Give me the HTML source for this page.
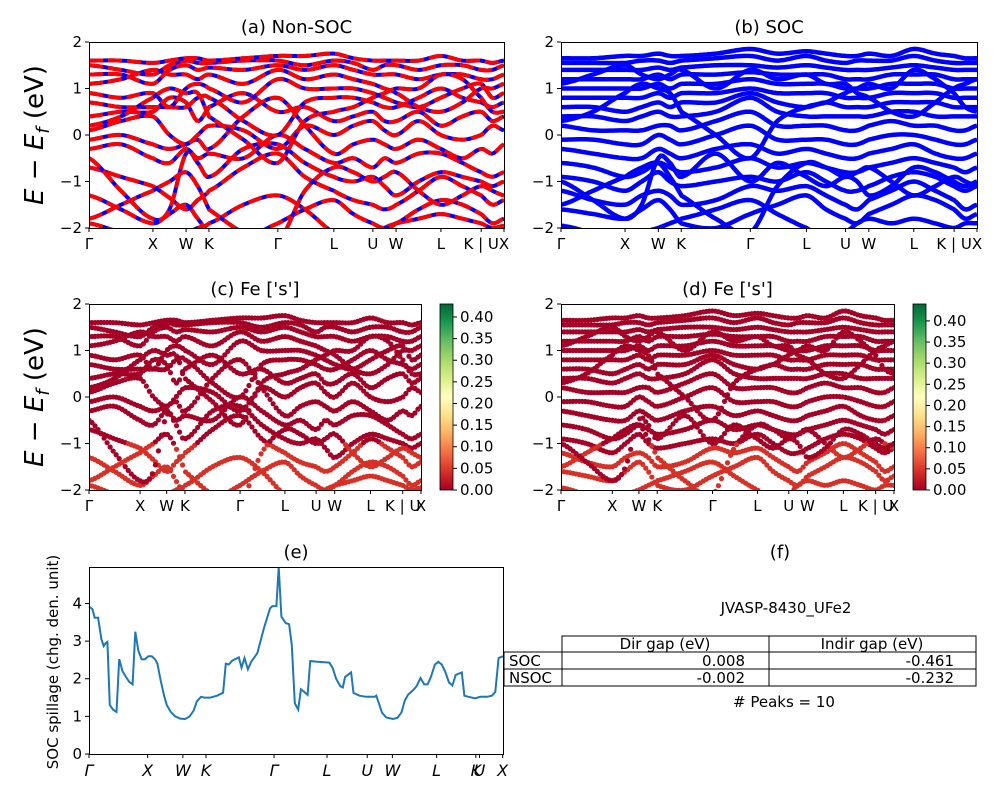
<!DOCTYPE html>
<html><head><meta charset="utf-8">
<style>
html,body{margin:0;padding:0;background:#fff;}
svg{display:block;font-family:"DejaVu Sans","Liberation Sans",sans-serif;}
</style></head>
<body>
<svg id="fig" width="1000" height="800" viewBox="0 0 1000 800" xmlns="http://www.w3.org/2000/svg">
<defs>
<linearGradient id="rdylgn" x1="0" y1="1" x2="0" y2="0">
<stop offset="0" stop-color="#a50026"/><stop offset="0.1" stop-color="#d73027"/><stop offset="0.2" stop-color="#f46d43"/><stop offset="0.3" stop-color="#fdae61"/><stop offset="0.4" stop-color="#fee08b"/><stop offset="0.5" stop-color="#ffffbf"/><stop offset="0.6" stop-color="#d9ef8b"/><stop offset="0.7" stop-color="#a6d96a"/><stop offset="0.8" stop-color="#66bd63"/><stop offset="0.9" stop-color="#1a9850"/><stop offset="1" stop-color="#006837"/>
</linearGradient>
<clipPath id="clipA"><rect x="89" y="42" width="415" height="186"/></clipPath>
<clipPath id="clipB"><rect x="561" y="42" width="416" height="186"/></clipPath>
<clipPath id="clipC"><rect x="89" y="304" width="332" height="186"/></clipPath>
<clipPath id="clipD"><rect x="561" y="304" width="333" height="186"/></clipPath>
</defs>
<g>
<text x="780" y="558" font-size="18" text-anchor="middle">(f)</text>
<text x="786" y="613" font-size="15" text-anchor="middle">JVASP-8430_UFe2</text>
<g font-size="15" fill="#000">
<rect x="562" y="636" width="207" height="16" fill="none" stroke="#000"/>
<rect x="769" y="636" width="207" height="16" fill="none" stroke="#000"/>
<rect x="504" y="652" width="58" height="17" fill="none" stroke="#000"/>
<rect x="562" y="652" width="207" height="17" fill="none" stroke="#000"/>
<rect x="769" y="652" width="207" height="17" fill="none" stroke="#000"/>
<rect x="504" y="669" width="58" height="17" fill="none" stroke="#000"/>
<rect x="562" y="669" width="207" height="17" fill="none" stroke="#000"/>
<rect x="769" y="669" width="207" height="17" fill="none" stroke="#000"/>
<text x="665" y="649" text-anchor="middle">Dir gap (eV)</text>
<text x="872" y="649" text-anchor="middle">Indir gap (eV)</text>
<text x="509" y="666">SOC</text>
<text x="509" y="683">NSOC</text>
<text x="745" y="666" text-anchor="end">0.008</text>
<text x="954" y="666" text-anchor="end">-0.461</text>
<text x="745" y="683" text-anchor="end">-0.002</text>
<text x="954" y="683" text-anchor="end">-0.232</text>
</g>
<text x="784" y="707" font-size="15" text-anchor="middle"># Peaks = 10</text>
</g>
</svg>
<script>
// ---------- data ----------
const kNodes = [0,0.077,0.154,0.194,0.234,0.262,0.289,0.372,0.455,0.52,0.59,0.637,0.684,0.712,0.74,0.794,0.848,0.9,0.945,0.972,1.0];
const kTickPos = [0,0.154,0.234,0.289,0.455,0.59,0.684,0.74,0.848,0.945,1.0];
const kTickLabels = ["Γ","X","W","K","Γ","L","U","W","L","K | U","X"];
const energyTicks = [-2,-1,0,1,2];
const nsocBands = [
[-1.9,-2.1,-2.3,-2.2,-2.1,-2.0,-1.9,-1.5,-1.3,-1.6,-2.1,-2.3,-2.2,-2.0,-1.9,-1.8,-1.7,-1.8,-1.9,-2.0,-1.95],
[-1.3,-1.6,-1.9,-1.7,-1.5,-1.8,-2.1,-2.2,-1.9,-1.6,-1.4,-1.7,-1.9,-2.0,-1.9,-1.6,-1.4,-1.5,-1.7,-1.9,-1.8],
[-0.7,-0.9,-1.1,-1.35,-1.6,-1.4,-1.2,-0.7,-0.4,-0.9,-1.2,-1.4,-1.5,-1.6,-1.5,-1.2,-0.9,-1.1,-1.3,-1.5,-1.4],
[-0.5,-1.2,-1.8,-1.6,-0.4,-0.6,-0.9,-0.3,-0.2,-0.6,-0.9,-1.0,-0.9,-1.1,-1.3,-1.0,-0.8,-0.9,-1.0,-1.1,-1.0],
[-0.3,-0.2,-0.5,-0.6,-0.3,-0.5,-0.4,-0.5,0.0,-0.3,-0.6,-0.5,-0.7,-0.5,-0.6,-0.4,-0.4,-0.6,-0.8,-0.9,-0.8],
[-0.1,0.0,-0.2,-0.3,-0.2,-0.1,-0.3,0.4,0.8,0.2,-0.4,-0.2,-0.1,-0.2,-0.3,-0.1,-0.3,-0.5,-0.3,-0.4,-0.2],
[0.1,0.3,0.4,0.0,-0.2,0.0,0.2,0.1,-0.3,0.2,0.0,0.2,0.3,0.1,0.0,0.3,0.0,-0.1,0.0,0.2,0.1],
[0.4,0.5,0.5,0.8,0.7,0.3,0.6,0.9,0.5,0.6,0.3,0.4,0.5,0.3,0.3,0.5,0.2,0.4,0.5,0.3,0.4],
[0.7,0.6,0.6,0.6,0.6,0.8,0.8,0.3,0.0,0.7,0.8,0.8,0.7,0.6,0.6,0.8,1.0,0.8,0.7,0.6,0.7],
[0.9,0.8,0.9,0.6,1.0,1.1,1.0,0.7,1.2,1.0,1.0,1.0,0.9,0.8,0.7,0.6,0.8,1.0,1.1,0.8,0.9],
[1.1,1.2,1.4,1.3,1.3,1.2,1.3,1.1,1.4,1.2,1.3,1.2,1.1,1.0,0.9,0.6,0.5,0.7,1.0,1.0,1.1],
[1.3,1.3,1.1,1.4,1.5,1.4,1.45,1.4,1.5,1.4,1.5,1.4,1.3,1.3,1.3,1.2,1.3,1.3,1.2,1.2,1.3],
[1.5,1.4,1.3,1.5,1.6,1.55,1.55,1.6,1.6,1.5,1.6,1.55,1.4,1.5,1.5,1.4,1.5,1.5,1.4,1.4,1.5],
[1.6,1.6,1.55,1.6,1.65,1.65,1.6,1.65,1.7,1.7,1.75,1.65,1.6,1.6,1.6,1.6,1.7,1.6,1.6,1.55,1.6],
[-1.8,-1.5,-1.2,-1.0,-0.8,-1.1,-1.6,-2.1,-2.3,-1.2,-0.7,-0.8,-1.0,-0.9,-0.8,-1.2,-1.5,-1.3,-1.1,-1.2,-1.3],
[0.2,0.4,0.8,1.0,0.9,0.9,0.4,-0.1,-0.6,0.3,0.5,0.6,0.8,0.9,1.0,1.0,1.3,1.2,0.8,0.5,0.5]
];
const nsocWeights = [0.025,0.02,0.015,0.01,0.01,0.01,0.01,0.01,0.01,0.01,0.01,0.01,0.01,0.01,0.02,0.01];
const socBands = [
[-1.95,-2.1,-2.2,-2.1,-2.0,-1.9,-1.8,-1.6,-1.4,-1.7,-2.0,-2.2,-2.1,-1.9,-1.8,-1.9,-1.8,-1.9,-2.0,-1.9,-1.9],
[-1.6,-1.7,-1.8,-1.6,-1.4,-1.6,-1.9,-2.0,-1.7,-1.5,-1.3,-1.6,-1.8,-1.9,-1.7,-1.5,-1.3,-1.4,-1.6,-1.8,-1.7],
[-1.2,-1.4,-1.5,-1.3,-1.2,-1.3,-1.5,-1.4,-1.1,-1.2,-1.1,-1.3,-1.5,-1.6,-1.4,-1.2,-1.0,-1.2,-1.4,-1.6,-1.5],
[-0.9,-1.0,-1.2,-1.0,-0.8,-1.0,-1.1,-1.0,-0.9,-1.0,-0.8,-1.0,-1.2,-1.2,-1.1,-0.9,-0.8,-0.9,-1.1,-1.2,-1.1],
[-0.6,-0.7,-0.9,-0.8,-0.6,-0.7,-0.8,-0.7,-0.5,-0.7,-0.6,-0.7,-0.8,-0.8,-0.7,-0.6,-0.5,-0.6,-0.7,-0.8,-0.7],
[-0.3,-0.4,-0.5,-0.5,-0.3,-0.4,-0.5,-0.3,-0.2,-0.4,-0.3,-0.4,-0.5,-0.5,-0.4,-0.3,-0.2,-0.4,-0.5,-0.5,-0.4],
[-0.1,-0.1,-0.2,-0.2,0.0,-0.1,-0.2,0.0,0.2,-0.1,-0.1,-0.1,-0.2,-0.2,-0.1,0.0,0.0,-0.1,-0.2,-0.2,-0.1],
[0.2,0.1,0.1,0.1,0.2,0.2,0.1,0.3,0.5,0.2,0.2,0.2,0.1,0.1,0.2,0.3,0.2,0.2,0.1,0.1,0.2],
[0.4,0.4,0.3,0.4,0.5,0.4,0.4,0.5,0.8,0.5,0.4,0.4,0.4,0.4,0.4,0.5,0.5,0.4,0.4,0.4,0.4],
[0.6,0.6,0.5,0.6,0.7,0.6,0.7,0.7,0.9,0.7,0.6,0.7,0.6,0.6,0.6,0.7,0.7,0.7,0.6,0.6,0.6],
[0.8,0.8,0.8,0.8,0.9,0.8,0.9,0.9,1.0,0.9,0.9,0.9,0.8,0.8,0.8,0.9,0.9,0.9,0.8,0.8,0.8],
[1.0,1.0,1.0,1.0,1.1,1.0,1.1,1.1,1.2,1.1,1.1,1.1,1.0,1.0,1.0,1.1,1.1,1.1,1.0,1.0,1.0],
[1.2,1.2,1.2,1.2,1.3,1.2,1.3,1.3,1.35,1.3,1.3,1.3,1.2,1.2,1.2,1.3,1.3,1.3,1.2,1.2,1.2],
[1.4,1.4,1.4,1.4,1.45,1.4,1.45,1.5,1.5,1.45,1.5,1.45,1.4,1.4,1.4,1.45,1.5,1.45,1.4,1.4,1.4],
[1.55,1.55,1.55,1.6,1.6,1.55,1.6,1.65,1.7,1.6,1.7,1.6,1.55,1.6,1.6,1.6,1.7,1.6,1.55,1.55,1.55],
[1.65,1.65,1.7,1.7,1.75,1.7,1.7,1.75,1.85,1.75,1.8,1.75,1.7,1.7,1.75,1.7,1.85,1.75,1.7,1.65,1.65],
[-1.5,-1.2,-0.9,-0.7,-0.6,-0.9,-1.3,-1.8,-2.1,-1.1,-0.6,-0.7,-0.9,-0.8,-0.7,-1.0,-1.3,-1.1,-0.9,-1.0,-1.1],
[0.3,0.5,0.9,1.1,1.0,0.9,0.5,0.0,-0.5,0.3,0.6,0.7,0.9,1.0,1.1,1.0,1.4,1.2,0.9,0.6,0.5],
[-1.0,-1.4,-1.8,-1.5,-0.5,-0.6,-0.9,-0.4,-1.0,-0.6,-0.9,-1.1,-0.9,-1.0,-1.3,-1.1,-0.7,-0.8,-1.0,-1.1,-1.0],
[1.1,1.3,1.5,1.3,1.2,1.3,1.4,1.0,1.4,1.2,1.3,1.1,1.1,0.9,0.8,0.5,0.4,0.7,1.0,1.1,1.2]
];
const socWeights = [0.025,0.02,0.015,0.01,0.01,0.01,0.01,0.01,0.01,0.01,0.01,0.01,0.01,0.01,0.01,0.01,0.02,0.01,0.01,0.01];
const cbarTicks = [0,0.05,0.1,0.15,0.2,0.25,0.3,0.35,0.4];
const cbarTickLabels = ["0.00","0.05","0.10","0.15","0.20","0.25","0.30","0.35","0.40"];
// spillage (panel e): k-distance (arbitrary units) and spillage values
const spillK = [148,158,165,175,185,192,198,203,210,220,230,238,248,258,268,278,286,295,305,315,325,335,345,352,362,372,380,392,405,420,435,448,460,470,482,492,510,530,548,556,565,575,590,595,603,612,622,632,650,670,688,695,707,714,722,735,745,753,762,772,780,790,800,808,830,865,875,885,898,905,912,930,937,955,975,1000,1005,1022,1035,1055,1068,1080,1090,1100,1115,1125,1137,1148,1158,1168,1180,1190,1200,1210,1222,1232,1242,1260,1268,1280,1300,1315,1335,1350,1360,1370,1383];
const spillV = [3.92,3.85,3.62,3.62,3.05,2.87,2.95,2.98,1.3,1.18,1.12,2.52,2.2,2.05,1.92,1.85,3.25,2.75,2.52,2.52,2.6,2.6,2.52,2.4,1.95,1.55,1.3,1.12,1.0,0.94,0.93,1.0,1.15,1.4,1.52,1.5,1.5,1.55,1.63,2.4,2.38,2.48,2.55,2.57,2.3,2.55,2.25,2.45,2.68,3.35,3.87,3.93,3.93,4.97,3.65,3.48,3.45,2.9,1.35,1.18,1.72,1.65,1.57,2.47,2.45,2.43,2.28,2.0,1.8,1.77,2.05,2.17,1.62,1.55,1.52,1.52,1.55,1.1,0.97,0.93,0.96,1.1,1.42,1.58,1.7,1.8,2.02,1.85,1.85,2.05,2.38,2.45,2.38,2.2,1.9,1.82,2.1,2.17,1.55,1.52,1.48,1.52,1.52,1.55,1.65,2.55,2.6];
const spillTickK = [148,323,428,497,700,858,978,1053,1185,1302,1313,1382];
const spillTickLabels = ["Γ","X","W","K","Γ","L","U","W","L","K","U","X"];
const spillYTicks = [0,1,2,3,4];

// ---------- helpers ----------
const NS = "http://www.w3.org/2000/svg";
const fig = document.getElementById("fig");
function el(tag, attrs, parent) {
  const e = document.createElementNS(NS, tag);
  for (const k in attrs) e.setAttribute(k, attrs[k]);
  (parent || fig).appendChild(e);
  return e;
}
function crVal(xs, ys, x) {
  let i = 0;
  while (i < xs.length - 2 && x > xs[i + 1]) i++;
  const t = (x - xs[i]) / (xs[i + 1] - xs[i]);
  const p0 = ys[Math.max(0, i - 1)], p1 = ys[i], p2 = ys[i + 1], p3 = ys[Math.min(ys.length - 1, i + 2)];
  const t2 = t * t, t3 = t2 * t;
  return 0.5 * ((2 * p1) + (-p0 + p2) * t + (2 * p0 - 5 * p1 + 4 * p2 - p3) * t2 + (-p0 + 3 * p1 - 3 * p2 + p3) * t3);
}
function cmap(v, vmax) {
  const stops = ["#a50026","#d73027","#f46d43","#fdae61","#fee08b","#ffffbf","#d9ef8b","#a6d96a","#66bd63","#1a9850","#006837"];
  const i = Math.max(0, Math.min(10, Math.round(v / vmax * 10)));
  return stops[i];
}

function drawAxes(p) {
  const g = el("g", {});
  
  
  const xs = v => p.x + v * p.w;
  const ys = v => p.y + (2 - v) / 4 * p.h;
  kTickPos.forEach((t, i) => {
    el("line", {x1: xs(t), x2: xs(t), y1: p.y + p.h, y2: p.y + p.h + 4, stroke: "#000"}, g);
    const tx = el("text", {x: xs(t), y: p.y + p.h + 21, "font-size": 15, "text-anchor": "middle"}, g);
    
    
    tx.textContent = kTickLabels[i];
  });
  energyTicks.forEach(v => {
    el("line", {x1: p.x - 4, x2: p.x, y1: ys(v), y2: ys(v), stroke: "#000"}, g);
    const tx = el("text", {x: p.x - 7, y: ys(v) + 5, "font-size": 15, "text-anchor": "end"}, g);
    
    
    tx.textContent = v === 0 ? "0" : (v < 0 ? "−" + (-v) : String(v));
  });
  const t = el("text", {x: p.x + p.w / 2, y: p.y - 9, "font-size": 18, "text-anchor": "middle"}, g);
  
  
  t.textContent = p.title;
  return {xs, ys, g};
}
function frame(p) {
  const r = el("rect", {x: p.x + 0.5, y: p.y + 0.5, width: p.w, height: p.h, fill: "none", stroke: "#000"});
  
  
}
function bandPath(band, xs, ys) {
  let d = "";
  for (let i = 0; i <= 200; i++) {
    const k = i / 200;
    d += (i ? "L" : "M") + xs(k).toFixed(1) + "," + ys(crVal(kNodes, band, k)).toFixed(1);
  }
  return d;
}
function linePanel(p, bands, dashed) {
  const a = drawAxes(p);
  const g = el("g", {"clip-path": "url(#" + p.clip + ")"});
  
  
  bands.forEach(b => {
    const d = bandPath(b, a.xs, a.ys);
    const l = el("path", {d, fill: "none", stroke: "#0000ff", "stroke-width": dashed ? 4 : 4.5}, g);
    
    
    if (dashed) {
      const r = el("path", {d, fill: "none", stroke: "#ff0000", "stroke-width": 4, "stroke-dasharray": "14 5"}, g);
      
      
    }
  });
  frame(p);
}
function dotPanel(p, bands, weights, vmax, cb) {
  const a = drawAxes(p);
  const g = el("g", {"clip-path": "url(#" + p.clip + ")"});
  
  
  bands.forEach((b, bi) => {
    for (let i = 0; i <= 110; i++) {
      const k = i / 110;
      const e = crVal(kNodes, b, k);
      const w = weights[bi] * (e < -1 ? 1.6 : 1);
      const c = el("circle", {cx: a.xs(k), cy: a.ys(e), r: 2.6, fill: cmap(w, vmax)}, g);
      
      
    }
  });
  frame(p);
  const cg = el("g", {});
  
  
  el("rect", {x: cb.x, y: p.y, width: 13, height: p.h, fill: "url(#rdylgn)", stroke: "#000", "stroke-width": 0.8}, cg);
  cbarTicks.forEach((v, i) => {
    const y = p.y + p.h - v / vmax * p.h;
    el("line", {x1: cb.x + 13, x2: cb.x + 17, y1: y, y2: y, stroke: "#000"}, cg);
    const tx = el("text", {x: cb.x + 20, y: y + 5, "font-size": 15}, cg);
    
    
    tx.textContent = cbarTickLabels[i];
  });
}

linePanel({name: "panel-a", title: "(a) Non-SOC", x: 89, y: 42, w: 415, h: 186, clip: "clipA"}, nsocBands, true);
linePanel({name: "panel-b", title: "(b) SOC", x: 561, y: 42, w: 416, h: 186, clip: "clipB"}, socBands, false);
dotPanel({name: "panel-c", title: "(c)  Fe ['s']", x: 89, y: 304, w: 332, h: 186, clip: "clipC"}, nsocBands, nsocWeights, 0.43, {x: 440});
dotPanel({name: "panel-d", title: "(d) Fe ['s']", x: 561, y: 304, w: 333, h: 186, clip: "clipD"}, socBands, socWeights, 0.44, {x: 913});

[135, 397].forEach((cy, i) => {
  const t = el("text", {x: 0, y: 0, "font-size": 26, "text-anchor": "middle", transform: "translate(43," + cy + ") rotate(-90)"});
  
  
  t.innerHTML = '<tspan font-style="italic">E</tspan> − <tspan font-style="italic">E</tspan><tspan font-style="italic" font-size="18" dy="6">f</tspan><tspan dy="-6"> (eV)</tspan>';
});

(function () {
  const P = {x: 89, y: 567, w: 414, h: 187};
  const k0 = 148, k1 = 1383, ymax = 4.97;
  const xs = k => P.x + (k - k0) / (k1 - k0) * P.w;
  const ys = v => P.y + P.h - v / ymax * P.h;
  const g = el("g", {});
  
  
  let d = "";
  spillK.forEach((k, i) => { d += (i ? "L" : "M") + xs(k).toFixed(1) + "," + ys(spillV[i]).toFixed(1); });
  const line = el("path", {d, fill: "none", stroke: "#1f77b4", "stroke-width": 2}, g);
  
  
  el("rect", {x: P.x + 0.5, y: P.y + 0.5, width: P.w, height: P.h, fill: "none", stroke: "#000"}, g);
  spillYTicks.forEach(v => {
    el("line", {x1: P.x - 4, x2: P.x, y1: ys(v), y2: ys(v), stroke: "#000"}, g);
    const tx = el("text", {x: P.x - 7, y: ys(v) + 5, "font-size": 15, "text-anchor": "end"}, g);
    
    
    tx.textContent = v;
  });
  spillTickK.forEach((k, i) => {
    el("line", {x1: xs(k), x2: xs(k), y1: P.y + P.h, y2: P.y + P.h + 4, stroke: "#000"}, g);
    const tx = el("text", {x: xs(k), y: P.y + P.h + 22, "font-size": 16, "font-style": "italic", "text-anchor": "middle"}, g);
    
    
    tx.textContent = spillTickLabels[i];
  });
  const t = el("text", {x: P.x + P.w / 2, y: P.y - 9, "font-size": 18, "text-anchor": "middle"}, g);
  
  
  t.textContent = "(e)";
  const yl = el("text", {x: 0, y: 0, "font-size": 15, "text-anchor": "middle", transform: "translate(58,662) rotate(-90)"}, g);
  
  
  yl.textContent = "SOC spillage (chg. den. unit)";
})();
</script>
</body></html>
